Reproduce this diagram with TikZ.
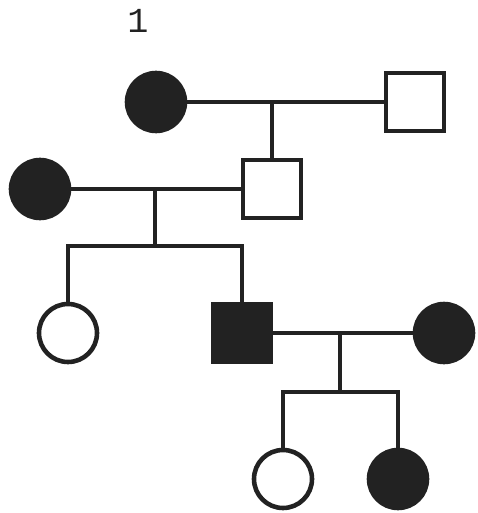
\documentclass[tikz,border=0pt]{standalone}
\usepackage{tikz}
\usetikzlibrary{positioning}
\usepackage{fontspec}
\newfontfamily\digitfont{Liberation Mono}
\definecolor{InkGray}{HTML}{222222}

\begin{document}
\begin{tikzpicture}[
  x=0.03cm, y=-0.03cm,
  female/.style={circle, draw=InkGray, line width=3.9pt, fill=white,
    minimum size=1.74cm, inner sep=0pt},
  male/.style={rectangle, draw=InkGray, line width=4.1pt, fill=white,
    minimum size=1.74cm, inner sep=0pt},
  affected/.style={fill=InkGray},
  link/.style={InkGray, line width=3.8pt}
]
\useasboundingbox (0,0) rectangle (477,513);

\node[font=\digitfont\fontsize{30}{32}\selectfont, text=InkGray] (gen) at (138,21) {1};

% generation I
\node[female, affected] (i1) at (156,102) {};
\node[male] (i2) at (415,102) {};
% generation II
\node[female, affected] (ii1) at (40,189) {};
\node[male] (ii2) at (272,189) {};
% generation III
\node[female] (iii1) at (68,333) {};
\node[male, affected] (iii2) at (242,333) {};
\node[female, affected] (iii3) at (444,333) {};
% generation IV
\node[female] (iv1) at (283,479) {};
\node[female, affected] (iv2) at (398,479) {};

\coordinate (c1) at (272,102);
\coordinate (c2) at (155,189);
\coordinate (s2) at (155,246);
\coordinate (c3) at (340,333);
\coordinate (s3) at (340,392);

\draw[link] (i1) -- (i2);
\draw[link] (c1) -- (ii2);
\draw[link] (ii1) -- (ii2);
\draw[link] (c2) -- (s2);
\draw[link] (iii1) |- (s2) -| (iii2);
\draw[link] (iii2) -- (iii3);
\draw[link] (c3) -- (s3);
\draw[link] (iv1) |- (s3) -| (iv2);

\end{tikzpicture}
\end{document}
